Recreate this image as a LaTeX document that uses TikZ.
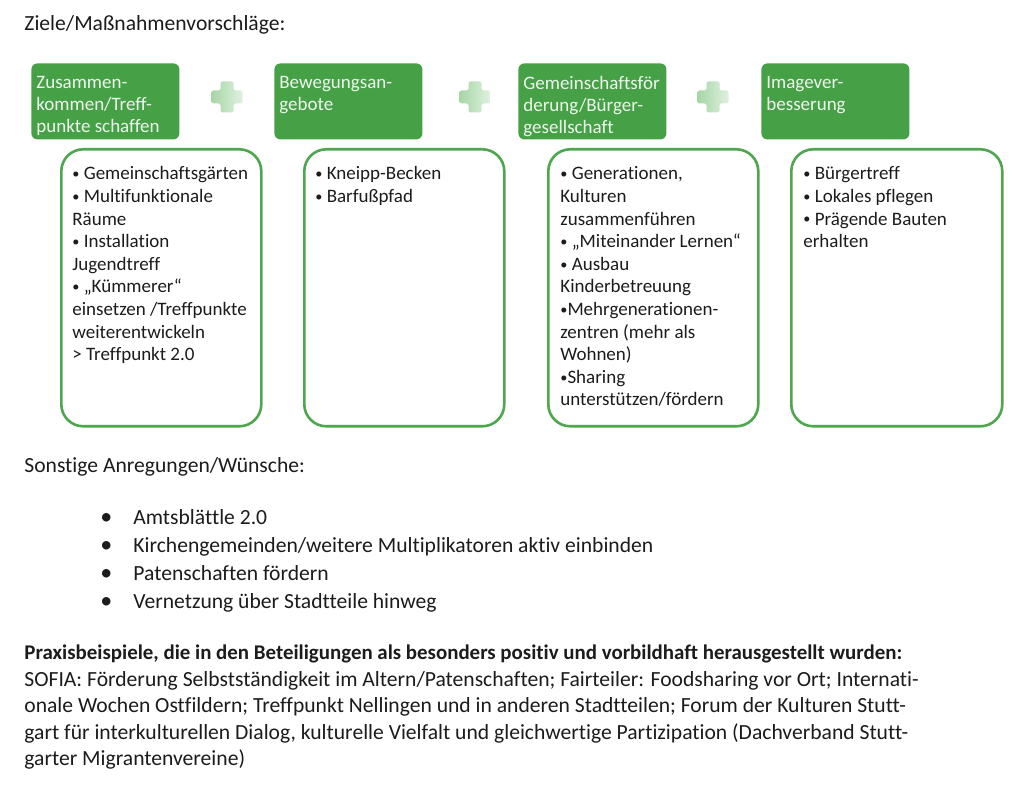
\documentclass[tikz,border=0pt]{standalone}
\usepackage{fontspec}
\setmainfont{Carlito}[Ligatures=NoCommon]
\usetikzlibrary{positioning}
\definecolor{ink}{HTML}{1C1C1C}
\definecolor{leaf}{HTML}{46A046}
\definecolor{rim}{HTML}{4EA64E}
\definecolor{mist}{HTML}{EEF7EE}
\definecolor{pale}{HTML}{A6D6A6}
\newcommand{\cardbul}{\raisebox{0.6pt}{\scalebox{0.75}{•}}}

\tikzset{
  head/.style={fill=leaf,rounded corners=3pt,anchor=north west,
    minimum width=74pt,minimum height=38pt,inner sep=0pt},
  headtext/.style={text=mist,align=left,inner sep=0pt,
    font=\fontsize{9.5}{11}\selectfont},
  card/.style={draw=rim,line width=1.3pt,rounded corners=11pt,
    anchor=north west,minimum height=138.5pt,inner sep=0pt},
  cardtext/.style={align=left,inner sep=0pt,
    font=\fontsize{9.5}{11.3}\selectfont},
  item/.style={anchor=base west,inner sep=0pt},
  cross/.pic={
    \shade[left color=pale,right color=pale!35,rounded corners=1pt]
      (-6.5,-15.5) -- (6.5,-15.5) -- (6.5,-6.5) -- (15.5,-6.5)
      -- (15.5,6.5) -- (6.5,6.5) -- (6.5,15.5) -- (-6.5,15.5)
      -- (-6.5,6.5) -- (-15.5,6.5) -- (-15.5,-6.5) -- (-6.5,-6.5)
      -- cycle;
  }
}

\begin{document}
\begin{tikzpicture}[x=0.5pt,y=-0.5pt,text=ink,
    font=\fontsize{10.8}{13.2}\selectfont]
  \path[use as bounding box,fill=white] (0,0) rectangle (1024,795);

  \node[item] (title) at (24,31) {Ziele/Maßnahmenvorschläge:};

  % green headings
  \node[head] (h1) at (31,63) {};
  \node[head] (h2) at (274,63) {};
  \node[head] (h3) at (518,63) {};
  \node[head] (h4) at (761,63) {};
  \node[headtext,below right=6.3pt and 2.5pt of h1.north west] (h1t)
    {Zusammen-\\kommen/Treff-\\punkte schaffen};
  \node[headtext,below right=6.3pt and 2.5pt of h2.north west] (h2t)
    {Bewegungsan-\\gebote};
  \node[headtext,below right=6.3pt and 2.5pt of h3.north west] (h3t)
    {Gemeinschaftsför\\derung/Bürger-\\gesellschaft};
  \node[headtext,below right=6.3pt and 2.5pt of h4.north west] (h4t)
    {Imagever-\\besserung};

  \pic at (227,97) {cross};
  \pic at (475,97) {cross};
  \pic at (713,97) {cross};

  % measures
  \node[card,minimum width=100pt] (b1) at (60,148) {};
  \node[card,minimum width=100pt] (b2) at (303,148) {};
  \node[card,minimum width=105pt] (b3) at (547,148) {};
  \node[card,minimum width=105.5pt] (b4) at (790,148) {};
  \node[cardtext,below right=9.2pt and 6pt of b1.north west] (b1t)
    {\cardbul{} Gemeinschaftsgärten\\\cardbul{} Multifunktionale\\Räume\\
     \cardbul{} Installation\\Jugendtreff\\\cardbul{} „Kümmerer“\\
     einsetzen /Treffpunkte\\weiterentwickeln\\> Treffpunkt 2.0};
  \node[cardtext,below right=9.2pt and 6pt of b2.north west] (b2t)
    {\cardbul{} Kneipp-Becken\\\cardbul{} Barfußpfad};
  \node[cardtext,below right=9.2pt and 6.5pt of b3.north west] (b3t)
    {\cardbul{} Generationen,\\Kulturen\\zusammenführen\\
     \cardbul{} „Miteinander Lernen“\\\cardbul{} Ausbau\\Kinderbetreuung\\
     \cardbul Mehrgenerationen-\\zentren (mehr als\\Wohnen)\\
     \cardbul Sharing\\unterstützen/fördern};
  \node[cardtext,below right=9.2pt and 6.5pt of b4.north west] (b4t)
    {\cardbul{} Bürgertreff\\\cardbul{} Lokales pflegen\\
     \cardbul{} Prägende Bauten\\erhalten};

  \node[item] (wish) at (24,473) {Sonstige Anregungen/Wünsche:};
  \node[item] (w1) at (100,525)
    {\makebox[16.5pt][l]{\large•}Amtsblättle 2.0};
  \node[item] (w2) at (100,553)
    {\makebox[16.5pt][l]{\large•}Kirchengemeinden/weitere Multiplikatoren aktiv einbinden};
  \node[item] (w3) at (100,581)
    {\makebox[16.5pt][l]{\large•}Patenschaften fördern};
  \node[item] (w4) at (100,609)
    {\makebox[16.5pt][l]{\large•}Vernetzung über Stadtteile hinweg};

  \node[item,font=\fontsize{10.45}{13.2}\bfseries] (praxis) at (24,660)
    {Praxisbeispiele, die in den Beteiligungen als besonders positiv
     und vorbildhaft herausgestellt wurden:};
  \node[anchor=north west,inner sep=0pt,align=left,
    font=\fontsize{10.8}{13.25}\selectfont] (praxist) at (24,671)
    {SOFIA: Förderung Selbstständigkeit im Altern/Patenschaften;
     Fairteiler: Foodsharing vor Ort; Internati-\\
     onale Wochen Ostfildern; Treffpunkt Nellingen und in anderen
     Stadtteilen; Forum der Kulturen Stutt-\\
     gart für interkulturellen Dialog, kulturelle Vielfalt und
     gleichwertige Partizipation (Dachverband Stutt-\\
     garter Migrantenvereine)};
\end{tikzpicture}
\end{document}
